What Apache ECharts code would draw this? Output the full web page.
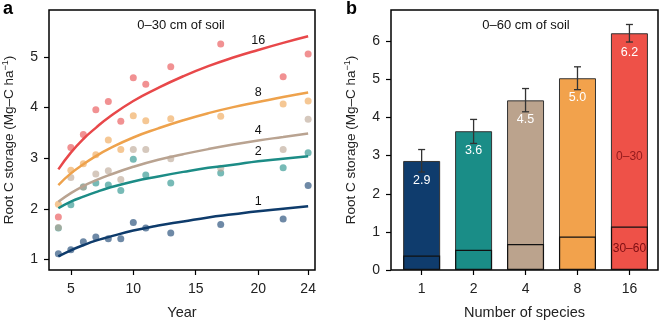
<!DOCTYPE html>
<html>
<head>
<meta charset="utf-8">
<script src="https://cdn.jsdelivr.net/npm/echarts@6/dist/echarts.min.js"></script>
<style>
html,body{margin:0;padding:0;background:#fff;}
#main{width:662px;height:325px;}
</style>
</head>
<body>
<div id="main"></div>
<script>
// panel a: observed points by year
var years = [4, 5, 6, 7, 8, 9, 10, 11, 13, 17, 22, 24];
var pts16 = [1.84, 3.21, 3.47, 3.96, 4.12, 3.73, 4.59, 4.46, 4.81, 5.26, 4.61, 5.06];
var pts8  = [2.09, 2.76, 2.89, 3.07, 3.36, 3.17, 3.84, 3.74, 3.78, 3.83, 4.07, 4.13];
var pts4  = [1.63, 2.62, 2.43, 2.69, 2.75, 2.58, 3.17, 3.17, 2.99, 2.80, 3.17, 3.77];
var pts2  = [1.62, 2.08, 2.43, 2.51, 2.47, 2.36, 2.98, 2.67, 2.51, 2.71, 2.81, 3.11];
var pts1  = [1.11, 1.19, 1.35, 1.44, 1.41, 1.41, 1.73, 1.62, 1.52, 1.69, 1.80, 2.46];

// panel a: fitted curves
var fitYears = [4, 5, 6, 7, 8, 10, 12, 14, 16, 18, 20, 22, 24];
var fit16 = [2.78, 3.11, 3.38, 3.60, 3.80, 4.13, 4.39, 4.62, 4.82, 4.99, 5.14, 5.28, 5.41];
var fit8  = [2.47, 2.70, 2.88, 3.04, 3.18, 3.41, 3.59, 3.75, 3.89, 4.01, 4.11, 4.21, 4.30];
var fit4  = [2.14, 2.31, 2.45, 2.56, 2.66, 2.83, 2.97, 3.08, 3.18, 3.27, 3.35, 3.42, 3.49];
var fit2  = [2.01, 2.14, 2.24, 2.33, 2.41, 2.54, 2.64, 2.73, 2.81, 2.87, 2.94, 2.99, 3.04];
var fit1  = [1.06, 1.18, 1.28, 1.37, 1.44, 1.57, 1.67, 1.75, 1.83, 1.89, 1.95, 2.00, 2.05];
var labelYear = 20;

// panel b: bars
var species = ['1', '2', '4', '8', '16'];
var total = [2.86, 3.64, 4.45, 5.03, 6.21];
var deep = [0.38, 0.53, 0.68, 0.88, 1.14];
var errLow = [2.57, 3.32, 4.15, 4.73, 5.98];
var errHigh = [3.16, 3.95, 4.76, 5.33, 6.44];
var barLabels = ['2.9', '3.6', '4.5', '5.0', '6.2'];

var colors = ['#0e3b6b', '#1c8c86', '#b9a391', '#eea24c', '#e8484a'];
var barColors = ['#0f3c6d', '#1a8d87', '#bba38d', '#f2a24c', '#ee5148'];
var FONT = 'Liberation Sans, Arial, sans-serif';

var myChart = echarts.init(document.getElementById('main'));

function pairs(xs, ys){
    var out = [];
    for (var i = 0; i < xs.length; i++) out.push([xs[i], ys[i]]);
    return out;
}
function curveData(vals, name){
    var out = [];
    for (var i = 0; i < fitYears.length; i++){
        if (fitYears[i] == labelYear){
            out.push({value:[fitYears[i], vals[i]], label:{show:true, formatter:name}});
        } else {
            out.push([fitYears[i], vals[i]]);
        }
    }
    return out;
}

var groups = [
    {name:'1', pts:pts1, fit:fit1, c:colors[0]},
    {name:'2', pts:pts2, fit:fit2, c:colors[1]},
    {name:'4', pts:pts4, fit:fit4, c:colors[2]},
    {name:'8', pts:pts8, fit:fit8, c:colors[3]},
    {name:'16', pts:pts16, fit:fit16, c:colors[4]}
];

var series = [];
groups.forEach(function(g){
    series.push({
        type:'scatter', xAxisIndex:0, yAxisIndex:0,
        symbolSize:7, silent:true,
        itemStyle:{color:g.c, opacity:0.6},
        data:pairs(years, g.pts)
    });
});
groups.forEach(function(g){
    series.push({
        type:'line', xAxisIndex:0, yAxisIndex:0,
        smooth:true, symbol:'circle', symbolSize:0, showSymbol:true, silent:true,
        itemStyle:{color:g.c},
        lineStyle:{color:g.c, width:2.5},
        label:{show:false, position:'top', distance:3, color:'#111', fontSize:12.5, fontFamily:FONT},
        data:curveData(g.fit, g.name),
        z:3
    });
});

// bars: full height (0-60 cm) with the 30-60 cm part drawn over it
var totData = [], lowData = [];
for (var i = 0; i < species.length; i++){
    totData.push({value:[i + 1, total[i]], itemStyle:{color:barColors[i]}});
    lowData.push({value:[i + 1, deep[i]], itemStyle:{color:barColors[i]}});
}
lowData[4].label = {show:true, position:'inside', formatter:'30\u201360', color:'#7d0d12', fontSize:12, fontFamily:FONT};

series.push({
    type:'bar', xAxisIndex:1, yAxisIndex:1, barWidth:37, barGap:'-100%',
    itemStyle:{borderColor:'#333', borderWidth:1},
    label:{show:true, position:'insideTop', distance:13, color:'#fff', fontSize:12.5, fontFamily:FONT,
        formatter:function(p){ return barLabels[p.dataIndex]; }},
    data:totData
});
series.push({
    type:'bar', xAxisIndex:1, yAxisIndex:1, barWidth:37, barGap:'-100%',
    itemStyle:{borderColor:'#111', borderWidth:1.2},
    data:lowData, z:3
});
series.push({
    type:'scatter', xAxisIndex:1, yAxisIndex:1, symbolSize:0, silent:true,
    label:{show:true, position:'inside', formatter:'0\u201330', color:'#7d0d12', fontSize:12, fontFamily:FONT},
    data:[[5, 2.97]], z:4
});
var errData = [];
for (var j = 0; j < species.length; j++) errData.push([j + 1, errLow[j], errHigh[j]]);
series.push({
    type:'custom', xAxisIndex:1, yAxisIndex:1, silent:true, z:5,
    renderItem:function(params, api){
        var x = api.value(0);
        var p1 = api.coord([x, api.value(2)]);
        var p2 = api.coord([x, api.value(1)]);
        var w = 3.5;
        var st = {stroke:'#333', lineWidth:1.3};
        return {type:'group', children:[
            {type:'line', shape:{x1:p1[0], y1:p1[1], x2:p2[0], y2:p2[1]}, style:st},
            {type:'line', shape:{x1:p1[0]-w, y1:p1[1], x2:p1[0]+w, y2:p1[1]}, style:st},
            {type:'line', shape:{x1:p2[0]-w, y1:p2[1], x2:p2[0]+w, y2:p2[1]}, style:st}
        ]};
    },
    data:errData
});

var axisText = {color:'#222', fontSize:14, fontFamily:FONT};
var yName = {
    fontSize:13.5, fontFamily:FONT, color:'#222',
    rich:{
        n:{fontSize:13.5, fontFamily:FONT, color:'#222', lineHeight:16},
        s:{fontSize:9, fontFamily:FONT, color:'#222', lineHeight:16, verticalAlign:'top'}
    }
};
var tick = {show:true, length:5, lineStyle:{color:'#000', width:1.2}};

var option = {
    animation:false,
    backgroundColor:'#fff',
    grid:[
        {left:48, right:347, top:10, bottom:48, show:true, borderColor:'#000', borderWidth:1.5},
        {left:391, right:4, top:10, bottom:48, show:true, borderColor:'#000', borderWidth:1.5}
    ],
    xAxis:[
        {
            gridIndex:0, type:'value', min:3.25, max:24.55,
            name:'Year', nameLocation:'middle', nameGap:35,
            nameTextStyle:{fontSize:14.5, fontFamily:FONT, color:'#222'},
            axisLine:{show:false}, splitLine:{show:false},
            axisTick:Object.assign({customValues:[5, 10, 15, 20, 24]}, tick),
            axisLabel:Object.assign({margin:12, customValues:[5, 10, 15, 20, 24]}, axisText)
        },
        {
            gridIndex:1, type:'value', min:0.41, max:5.55,
            name:'Number of species', nameLocation:'middle', nameGap:35,
            nameTextStyle:{fontSize:14.5, fontFamily:FONT, color:'#222'},
            axisLine:{show:false}, splitLine:{show:false},
            axisTick:Object.assign({customValues:[1, 2, 3, 4, 5]}, tick),
            axisLabel:Object.assign({margin:12, customValues:[1, 2, 3, 4, 5],
                formatter:function(v){ return species[Math.round(v) - 1]; }}, axisText)
        }
    ],
    yAxis:[
        {
            gridIndex:0, type:'value', min:0.79, max:5.93,
            name:'{n|Root C storage (Mg\u2013C ha}{s|\u22121}{n|)}', nameLocation:'middle', nameGap:32,
            nameTextStyle:yName,
            axisLine:{show:false}, splitLine:{show:false},
            axisTick:Object.assign({customValues:[1, 2, 3, 4, 5]}, tick),
            axisLabel:Object.assign({margin:11, customValues:[1, 2, 3, 4, 5]}, axisText)
        },
        {
            gridIndex:1, type:'value', min:0, max:6.82,
            name:'{n|Root C storage (Mg\u2013C ha}{s|\u22121}{n|)}', nameLocation:'middle', nameGap:32,
            nameTextStyle:yName,
            axisLine:{show:false}, splitLine:{show:false},
            axisTick:Object.assign({customValues:[0, 1, 2, 3, 4, 5, 6]}, tick),
            axisLabel:Object.assign({margin:11, customValues:[0, 1, 2, 3, 4, 5, 6]}, axisText)
        }
    ],
    graphic:[
        {type:'text', x:3, y:0, style:{text:'a', font:'bold 18px ' + FONT, fill:'#000'}},
        {type:'text', x:346, y:0, style:{text:'b', font:'bold 18px ' + FONT, fill:'#000'}},
        {type:'text', x:181, y:25, style:{text:'0\u201330 cm of soil', font:'13px ' + FONT, fill:'#111', textAlign:'center', textVerticalAlign:'middle'}},
        {type:'text', x:526, y:25, style:{text:'0\u201360 cm of soil', font:'13px ' + FONT, fill:'#111', textAlign:'center', textVerticalAlign:'middle'}}
    ],
    series:series
};
myChart.setOption(option);
</script>
</body>
</html>
